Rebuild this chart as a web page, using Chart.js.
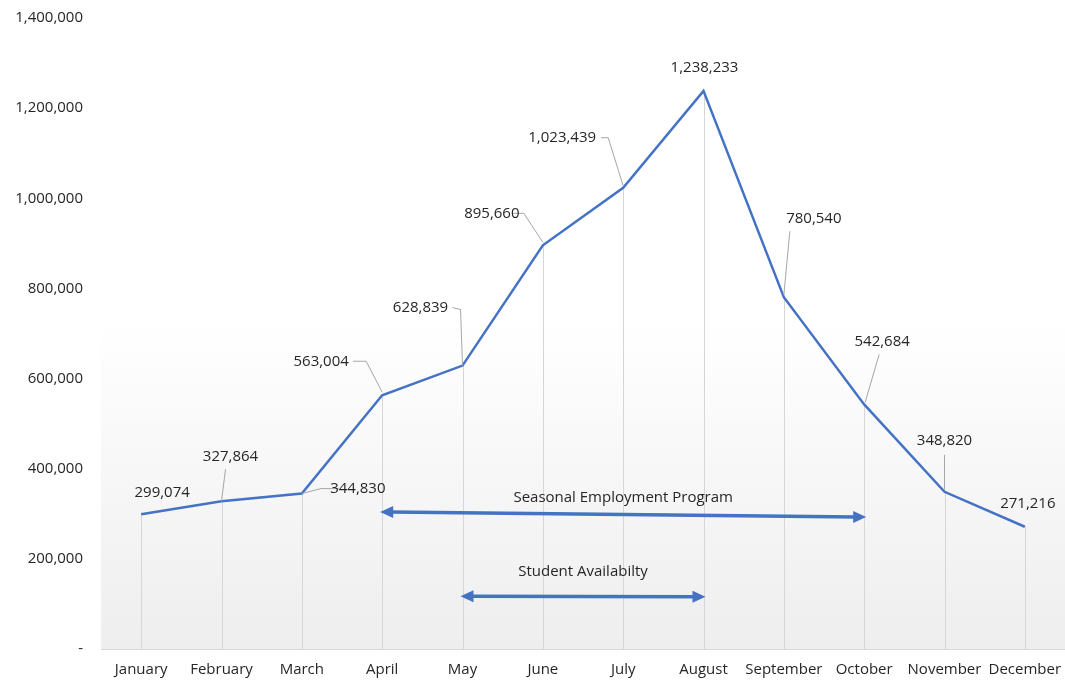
<!DOCTYPE html>
<html>
<head>
<meta charset="utf-8">
<script src="https://cdn.jsdelivr.net/npm/chart.js@4"></script>
<style>
  html, body { margin: 0; padding: 0; background: #fff; }
  #wrap { width: 1065px; height: 681px; position: relative; }
</style>
</head>
<body>
<div id="wrap"><canvas id="jobChart"></canvas></div>
<script>
const months = ['January','February','March','April','May','June','July','August','September','October','November','December'];
const employment = [299074, 327864, 344830, 563004, 628839, 895660, 1023439, 1238233, 780540, 542684, 348820, 271216];
const yTicks = [0, 200000, 400000, 600000, 800000, 1000000, 1200000, 1400000];

// the two period arrows under the line
const periodNames = ['Seasonal Employment Program', 'Student Availabilty'];
const periodFrom = ['April', 'May'];
const periodTo = ['October', 'August'];
const periodLevelFrom = [304000, 117000];
const periodLevelTo = [293000, 116000];
const periodTextGap = [17, 25];

// where each value label sits relative to its point, and its leader line if any
const labelShift = [[21,-21],[9,-44],[56,-5],[-61,-34],[-42,-58],[-51,-32],[-61,-50],[1,-23],[30,-78],[18,-63],[0,-51],[3,-23]];
const leaders = [null, [[4,-32],[0,0]], [[37,-5],[19,-5],[0,0]], [[-29,-34],[-16,-34],[0,-3]], [[-10,-58],[-2,-56],[0,0]],
  [[-30,-32],[-19,-32],[0,-3]], [[-22,-50],[-15,-50],[0,-2]], null, [[6,-66],[0,-2]], [[15,-50],[1,-2]], [[0,-37],[0,-2]], null];

const FONT = '"Open Sans", "Liberation Sans", sans-serif';
const BLUE = '#4472C4';

const backdrop = {
  id: 'backdrop',
  beforeDraw(chart){
    const {ctx, chartArea: a} = chart;
    const g = ctx.createLinearGradient(0, a.top, 0, a.bottom);
    g.addColorStop(0, '#ffffff');
    g.addColorStop(0.48, '#ffffff');
    g.addColorStop(1, '#eeeeee');
    ctx.save();
    ctx.fillStyle = g;
    ctx.fillRect(a.left, a.top, a.right - a.left, a.bottom - a.top);
    ctx.restore();
  },
  beforeDatasetsDraw(chart){
    // drop lines from every point to the axis
    const {ctx, chartArea: a} = chart;
    const pts = chart.getDatasetMeta(0).data;
    ctx.save();
    ctx.strokeStyle = '#d6d6d6';
    ctx.lineWidth = 1;
    pts.forEach(p => {
      const x = Math.round(p.x) + 0.5;
      ctx.beginPath();
      ctx.moveTo(x, p.y);
      ctx.lineTo(x, a.bottom);
      ctx.stroke();
    });
    ctx.restore();
  }
};

function arrowHead(ctx, x, y, dir){
  ctx.beginPath();
  ctx.moveTo(x, y);
  ctx.lineTo(x - dir * 13, y - 6);
  ctx.lineTo(x - dir * 13, y + 6);
  ctx.closePath();
  ctx.fill();
}

const overlay = {
  id: 'overlay',
  afterDatasetsDraw(chart){
    const {ctx} = chart;
    const xs = chart.scales.x, ys = chart.scales.y;
    const pts = chart.getDatasetMeta(0).data;
    ctx.save();

    // leader lines
    ctx.strokeStyle = '#a6a6a6';
    ctx.lineWidth = 1;
    leaders.forEach((seg, i) => {
      if(!seg) return;
      const p = pts[i];
      ctx.beginPath();
      seg.forEach((d, k) => {
        const x = p.x + d[0], y = p.y + d[1];
        if(k === 0) ctx.moveTo(x, y); else ctx.lineTo(x, y);
      });
      ctx.stroke();
    });

    // value labels
    ctx.fillStyle = '#262626';
    ctx.font = '15px ' + FONT;
    ctx.textAlign = 'center';
    ctx.textBaseline = 'middle';
    employment.forEach((v, i) => {
      const p = pts[i];
      ctx.fillText(v.toLocaleString('en-US'), p.x + labelShift[i][0], p.y + labelShift[i][1]);
    });

    // period arrows
    periodNames.forEach((name, i) => {
      const x1 = xs.getPixelForValue(months.indexOf(periodFrom[i]));
      const x2 = xs.getPixelForValue(months.indexOf(periodTo[i]));
      const y1 = ys.getPixelForValue(periodLevelFrom[i]);
      const y2 = ys.getPixelForValue(periodLevelTo[i]);
      ctx.strokeStyle = BLUE;
      ctx.fillStyle = BLUE;
      ctx.lineWidth = 3.5;
      ctx.beginPath();
      ctx.moveTo(x1 + 8, y1);
      ctx.lineTo(x2 - 8, y2);
      ctx.stroke();
      arrowHead(ctx, x1 - 2, y1, -1);
      arrowHead(ctx, x2 + 2, y2, 1);
      ctx.fillStyle = '#262626';
      ctx.font = '15px ' + FONT;
      ctx.fillText(name, (x1 + x2) / 2, (y1 + y2) / 2 - periodTextGap[i]);
    });
    ctx.restore();
  }
};

new Chart(document.getElementById('jobChart'), {
  type: 'line',
  data: {
    labels: months,
    datasets: [{
      data: employment,
      borderColor: BLUE,
      borderWidth: 2.5,
      tension: 0,
      pointRadius: 0,
      fill: false
    }]
  },
  options: {
    responsive: true,
    maintainAspectRatio: false,
    animation: false,
    layout: { padding: { top: 18, right: 0, left: 10, bottom: 0 } },
    plugins: { legend: { display: false }, tooltip: { enabled: false } },
    scales: {
      x: {
        offset: true,
        afterFit(scale){ scale.height = 32; scale.paddingLeft = 0; scale.paddingRight = 0; },
        grid: { display: false, drawTicks: false },
        border: { display: true, color: '#d9d9d9' },
        ticks: { color: '#262626', font: { family: FONT, size: 15 }, padding: 12, maxRotation: 0, autoSkip: false }
      },
      y: {
        min: 0,
        max: 1400000,
        afterBuildTicks(scale){ scale.ticks = yTicks.map(v => ({ value: v })); },
        afterFit(scale){ scale.width = 91; scale.paddingTop = 0; scale.paddingBottom = 0; },
        grid: { display: false, drawTicks: false },
        border: { display: false },
        ticks: {
          color: '#262626',
          font: { family: FONT, size: 15 },
          padding: 18,
          callback: v => v === 0 ? '-' : v.toLocaleString('en-US')
        }
      }
    }
  },
  plugins: [backdrop, overlay]
});
</script>
</body>
</html>
